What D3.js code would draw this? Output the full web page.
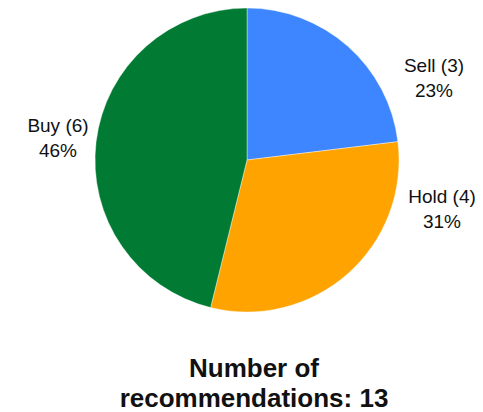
<!DOCTYPE html>
<html>
<head>
<meta charset="utf-8">
<script src="https://cdn.jsdelivr.net/npm/d3@7"></script>
<style>
  html, body { margin: 0; padding: 0; background: #fff; }
  svg { display: block; }
</style>
</head>
<body>
<svg id="chart" width="483" height="412"></svg>
<script>
// Analyst recommendations, drawn clockwise from 12 o'clock
const categories = ["Sell", "Hold", "Buy"];
const counts = [3, 4, 6];
const colors = ["#3d86ff", "#ffa300", "#017a34"];
const titleLines = ["Number of", "recommendations: 13"];

const total = d3.sum(counts);
const data = categories.map((c, i) => ({ name: c, value: counts[i], color: colors[i] }));

const svg = d3.select("#chart");
const cx = 247, cy = 160, r = 152;

const pie = d3.pie().sort(null).value(d => d.value);
const arc = d3.arc().innerRadius(0).outerRadius(r);
const arcs = pie(data);

const g = svg.append("g").attr("transform", `translate(${cx},${cy})`);

g.selectAll("path")
  .data(arcs)
  .join("path")
  .attr("d", arc)
  .attr("fill", d => d.data.color)
  .attr("stroke", "#fff")
  .attr("stroke-width", 0.4);

// Outside labels: name with count, then percentage
const labelPos = {
  Sell: [434, 72],
  Hold: [442, 203],
  Buy: [58, 132]
};

const labels = svg.append("g")
  .attr("font-family", "Liberation Sans, Arial, sans-serif")
  .attr("font-size", 19)
  .attr("fill", "#111")
  .attr("text-anchor", "middle");

arcs.forEach(a => {
  const [x, y] = labelPos[a.data.name];
  const t = labels.append("text").attr("x", x).attr("y", y);
  t.append("tspan").attr("x", x).text(`${a.data.name} (${a.data.value})`);
  t.append("tspan").attr("x", x).attr("dy", 25)
    .text(d3.format(".0%")(a.data.value / total));
});

// Title beneath the pie
const title = svg.append("text")
  .attr("font-family", "Liberation Sans, Arial, sans-serif")
  .attr("font-size", 26)
  .attr("font-weight", "bold")
  .attr("fill", "#111")
  .attr("text-anchor", "middle")
  .attr("x", 254)
  .attr("y", 377);
titleLines.forEach((line, i) => {
  title.append("tspan").attr("x", 254).attr("dy", i === 0 ? 0 : 30).text(line);
});
</script>
</body>
</html>
